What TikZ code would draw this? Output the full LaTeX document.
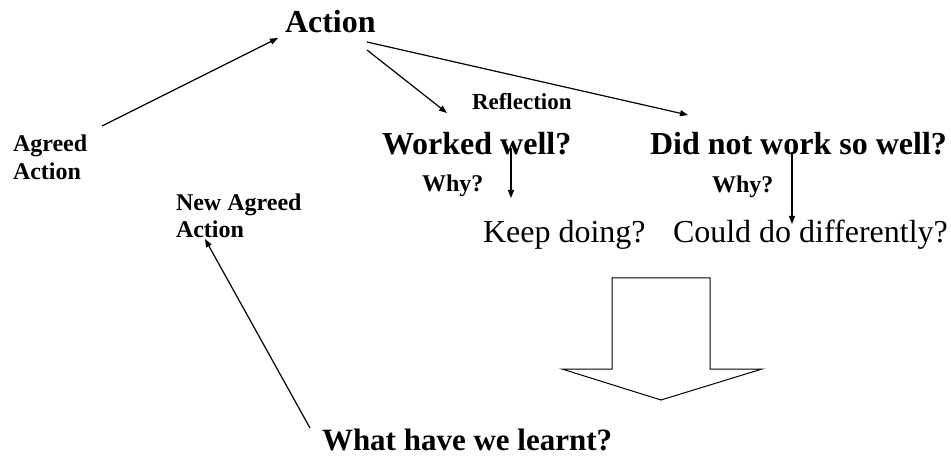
\documentclass[tikz,border=0pt]{standalone}
\usepackage{fontspec}
\setmainfont{Liberation Serif}
\usetikzlibrary{arrows.meta}
\begin{document}
\begin{tikzpicture}[x=1pt,y=-1pt,
  lbl/.style={inner sep=0pt,outer sep=0pt,anchor=base west,align=left},
  big/.style={lbl,font=\fontsize{32}{36}\selectfont\bfseries},
  bigreg/.style={lbl,font=\fontsize{32}{36}\selectfont},
  small/.style={lbl,font=\fontsize{24}{28}\selectfont\bfseries},
  conn/.style={line width=1.2pt,-{Triangle[length=8pt,width=6pt]}},
  block/.style={line width=1pt}]
\useasboundingbox (0,0) rectangle (951,457);
% nodes
\node[big] (action) at (285,33) {Action};
\node[small] (agreed) at (13,180) {Agreed\\Action};
\node[lbl,font=\fontsize{23}{27}\selectfont\bfseries] (refl) at (472,110) {Reflection};
\node[big] (worked) at (382,155) {Worked well?};
\node[big] (did) at (650,155) {Did not work so well?};
\node[small] (why1) at (422,192) {Why?};
\node[small] (why2) at (712,193) {Why?};
\node[lbl,font=\fontsize{24}{27}\selectfont\bfseries] (newa) at (176,238) {New Agreed\\Action};
\node[bigreg] (keep) at (483,243) {Keep doing?};
\node[bigreg] (could) at (673,243) {Could do differently?};
\node[lbl,font=\fontsize{31}{36}\selectfont\bfseries] (learnt) at (322,450) {What have we learnt?};
% connectors
\draw[conn] ([shift={(89,-54)}]agreed.base west) -- ([shift={(-7,5)}]action.base west);
\draw[conn] ([shift={(82,17)}]action.base west) -- ([shift={(65,-42)}]worked.base west);
\draw[conn] ([shift={(82,9)}]action.base west) -- ([shift={(38,-40)}]did.base west);
\draw[conn] ([shift={(129,-7)}]worked.base west) -- ([shift={(28,-45)}]keep.base west);
\draw[conn] ([shift={(142,-3)}]did.base west) -- ([shift={(119,-19)}]could.base west);
\draw[conn] ([shift={(-12,-22)}]learnt.base west) -- ([shift={(29,1)}]newa.base west);
% block arrow
\draw[block] (612,278) -- (710,278) -- (710,369) -- (762,369) -- (661,400) -- (562,369) -- (612,369) -- cycle;
\end{tikzpicture}
\end{document}
